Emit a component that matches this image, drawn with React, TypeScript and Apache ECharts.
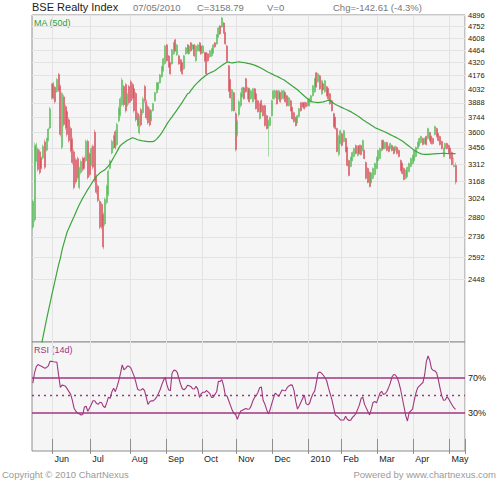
import React, { useEffect, useRef } from 'react';
import * as echarts from 'echarts';

// ---- Data ----
const monthLabels = ['Jun', 'Jul', 'Aug', 'Sep', 'Oct', 'Nov', 'Dec', '2010', 'Feb', 'Mar', 'Apr', 'May'];
const monthStarts = [12, 34, 57, 78, 99, 119, 140, 161, 180, 201, 222, 243];
const SLOT_COUNT = 252;
const priceTicks = [4896, 4752, 4608, 4464, 4320, 4176, 4032, 3888, 3744, 3600, 3456, 3312, 3168, 3024, 2880, 2736, 2592, 2448];
const rsiTicks = [30, 70];
const headerDate = '07/05/2010';
const headerVolume = 0;

const opens = [
  2807, 2860, 3340, 3440, 3420, 3365, 3365, 3510, 3435, 3525, 3640, 3935,
  4090, 4050, 4005, 4190, 4060, 3460, 3950, 3850, 3800, 3720, 3635, 3530, 3420, 3350, 3360, 3115, 3240, 3360, 3365, 3340, 3515, 3400,
  3305, 3470, 3600, 3205, 3125, 3003, 2980, 2900, 2830, 2995, 3060, 3275, 3410, 3455, 3605, 3485, 3710, 3770, 3870, 4060, 4080, 3865, 4060,
  4110, 4080, 4035, 3985, 3780, 3595, 3820, 3790, 4060, 3900, 3850, 3820, 3715, 3810, 3910, 3993, 4035, 4098, 4164, 4230, 4310,
  4527, 4398, 4318, 4307, 4422, 4587, 4410, 4399, 4353, 4318, 4251, 4422, 4527, 4422, 4551, 4480, 4527, 4342, 4457, 4551, 4515,
  4434, 4434, 4434, 4422, 4387, 4399, 4434, 4551, 4539, 4623, 4758, 4745, 4795, 4672, 4515, 4285, 4131, 3810, 3993, 3780,
  3578, 3770, 3860, 3952, 4045, 4142, 3931, 4035, 3931, 3900, 4035, 3982, 3910, 3731, 3910, 3860, 3860, 3760, 3640, 3665, 3760,
  3931, 3941, 4013, 3931, 3993, 3931, 3941, 3993, 3962, 3860, 3910, 3840, 3790, 3741, 3692, 3751, 3890, 3890, 3890, 3890, 3860,
  3860, 3900, 3962, 4003, 4207, 4109, 4174, 3982, 4088, 4003, 4056, 4035, 3982, 3910, 3780, 3741, 3635, 3396, 3495,
  3587, 3513, 3541, 3459, 3343, 3291, 3343, 3378, 3477, 3387, 3477, 3477, 3432, 3432, 3325, 3274, 3240, 3156, 3190, 3223, 3274,
  3343, 3361, 3432, 3523, 3450, 3504, 3468, 3450, 3477, 3459, 3432, 3459, 3432, 3343, 3317, 3274, 3190, 3206, 3249, 3291, 3317,
  3343, 3378, 3450, 3477, 3504, 3541, 3495, 3560, 3541, 3597, 3560, 3541, 3578, 3635, 3587, 3560, 3513, 3378, 3450, 3495, 3477,
  3450, 3414, 3291, 3300,
];
const closes = [
  3003, 3470, 3485, 3265, 3240, 3275, 3470, 3285, 3540, 3630, 3830, 4080,
  3940, 3900, 4135, 4020, 3580, 3985, 3675, 3645, 3580, 3520, 3432, 3325, 3115, 3160, 3197, 3275, 3335, 3265, 3280, 3515, 3197, 3223,
  3450, 3285, 3175, 3075, 3010, 2807, 2810, 2665, 3020, 3125, 3250, 3340, 3515, 3565, 3460, 3675, 3830, 3930, 4130, 3870, 3810, 3975, 3890,
  3910, 3940, 3810, 3720, 3670, 3750, 3670, 3930, 3910, 3740, 3690, 3670, 3805, 3880, 3993, 4098, 4098, 4185, 4274, 4364, 4515,
  4342, 4274, 4196, 4469, 4551, 4457, 4527, 4307, 4230, 4196, 4399, 4492, 4434, 4515, 4457, 4527, 4399, 4515, 4527, 4457, 4422,
  4515, 4342, 4196, 4342, 4457, 4480, 4527, 4504, 4647, 4733, 4659, 4858, 4672, 4539, 4342, 4013, 3942, 4024, 3810, 3441,
  3702, 3900, 3982, 4045, 3931, 4003, 4045, 3900, 4013, 4035, 3931, 3830, 3800, 3880, 3800, 3760, 3665, 3635, 3711, 3741, 3910,
  4013, 4013, 3880, 4013, 3900, 4013, 4013, 3900, 3860, 3941, 3810, 3731, 3702, 3663, 3760, 3830, 3810, 3850, 3830, 3850, 3910,
  3931, 3962, 4066, 4142, 4056, 4196, 4035, 4120, 4024, 4120, 3962, 3931, 3880, 3810, 3654, 3635, 3423, 3560, 3615,
  3477, 3615, 3423, 3300, 3215, 3370, 3414, 3450, 3405, 3468, 3405, 3396, 3523, 3361, 3190, 3156, 3123, 3232, 3274, 3317, 3370,
  3432, 3450, 3523, 3450, 3504, 3432, 3423, 3495, 3432, 3405, 3468, 3405, 3378, 3257, 3232, 3181, 3257, 3283, 3317, 3361, 3387,
  3432, 3459, 3504, 3541, 3560, 3486, 3541, 3486, 3635, 3523, 3495, 3495, 3654, 3560, 3523, 3486, 3450, 3450, 3495, 3450, 3414,
  3361, 3308, 3301.4, 3158.79,
];
const lows = [
  2792, 2843, 3325, 3249, 3223, 3266, 3352, 3266, 3423, 3513, 3625, 3921,
  3921, 3880, 3993, 4003, 3560, 3441, 3654, 3625, 3560, 3504, 3414, 3308, 3099, 3140, 3181, 3099, 3223, 3249, 3266, 3325, 3181, 3206,
  3291, 3266, 3156, 3059, 2996, 2792, 2792, 2649, 2814, 2980, 3043, 3266, 3396, 3441, 3441, 3468, 3692, 3751, 3850, 3850, 3790, 3850, 3870,
  3890, 3921, 3790, 3702, 3654, 3578, 3654, 3770, 3890, 3721, 3673, 3654, 3702, 3800, 3900, 3982, 4024, 4088, 4153, 4218, 4296,
  4330, 4262, 4185, 4296, 4410, 4445, 4399, 4296, 4218, 4185, 4240, 4410, 4422, 4410, 4445, 4469, 4387, 4330, 4445, 4445, 4410,
  4422, 4330, 4185, 4330, 4375, 4387, 4422, 4492, 4527, 4611, 4647, 4733, 4659, 4527, 4330, 4003, 3931, 3800, 3800, 3423,
  3560, 3751, 3840, 3941, 3921, 3993, 3921, 3890, 3921, 3890, 3921, 3820, 3790, 3721, 3790, 3751, 3654, 3625, 3378, 3654, 3751,
  3921, 3921, 3870, 3921, 3890, 3921, 3921, 3890, 3850, 3850, 3800, 3721, 3692, 3654, 3683, 3741, 3800, 3840, 3820, 3840, 3850,
  3850, 3890, 3952, 3993, 4045, 4098, 4024, 3972, 4013, 3993, 3952, 3921, 3870, 3800, 3644, 3625, 3414, 3378, 3486,
  3468, 3504, 3414, 3291, 3206, 3283, 3335, 3370, 3396, 3378, 3396, 3387, 3423, 3352, 3181, 3148, 3115, 3148, 3181, 3215, 3266,
  3335, 3352, 3423, 3441, 3441, 3423, 3414, 3441, 3423, 3396, 3423, 3396, 3370, 3249, 3223, 3173, 3181, 3198, 3240, 3283, 3308,
  3335, 3370, 3441, 3468, 3495, 3477, 3486, 3477, 3532, 3513, 3486, 3486, 3569, 3550, 3513, 3477, 3441, 3370, 3441, 3441, 3405,
  3352, 3300, 3283, 3140,
];
const highs = [
  3019, 3504, 3504, 3459, 3441, 3378, 3486, 3532, 3550, 3644, 3850, 4098,
  4109, 4066, 4153, 4207, 4077, 4003, 3972, 3870, 3820, 3741, 3654, 3550, 3441, 3370, 3378, 3291, 3352, 3378, 3378, 3532, 3532, 3414,
  3468, 3486, 3625, 3223, 3140, 3019, 2996, 2918, 3035, 3140, 3266, 3352, 3532, 3578, 3625, 3692, 3850, 3952, 4153, 4077, 4098, 3993, 4077,
  4131, 4098, 4056, 4003, 3800, 3770, 3840, 3952, 4077, 3921, 3870, 3840, 3820, 3890, 4003, 4109, 4109, 4196, 4285, 4375, 4527,
  4539, 4410, 4330, 4480, 4563, 4599, 4539, 4410, 4364, 4330, 4410, 4504, 4539, 4527, 4563, 4539, 4539, 4527, 4539, 4563, 4527,
  4527, 4445, 4445, 4433, 4469, 4492, 4539, 4563, 4659, 4745, 4770, 4870, 4808, 4684, 4527, 4296, 4142, 4035, 4003, 3800,
  3721, 3921, 4003, 4056, 4056, 4153, 4056, 4045, 4024, 4045, 4045, 3993, 3921, 3890, 3921, 3870, 3870, 3770, 3721, 3751, 3921,
  4024, 4024, 4024, 4024, 4003, 4024, 4024, 4003, 3972, 3952, 3921, 3850, 3800, 3751, 3770, 3840, 3900, 3900, 3900, 3900, 3921,
  3941, 3972, 4077, 4153, 4218, 4207, 4185, 4131, 4098, 4131, 4066, 4045, 3993, 3921, 3790, 3751, 3644, 3578, 3625,
  3597, 3625, 3550, 3468, 3352, 3378, 3423, 3459, 3486, 3477, 3486, 3486, 3532, 3441, 3335, 3283, 3249, 3240, 3283, 3325, 3378,
  3441, 3459, 3532, 3532, 3513, 3513, 3477, 3504, 3486, 3468, 3477, 3468, 3441, 3352, 3325, 3283, 3266, 3291, 3325, 3370, 3396,
  3441, 3468, 3513, 3550, 3569, 3550, 3550, 3569, 3644, 3606, 3569, 3550, 3663, 3644, 3597, 3569, 3523, 3459, 3504, 3504, 3486,
  3459, 3423, 3370, 3325,
];
const ma50 = [
  1846, 1887, 1929, 1972, 2015, 2060, 2109, 2157, 2206, 2252, 2298, 2348,
  2396, 2445, 2494, 2545, 2586, 2645, 2688, 2731, 2773, 2801, 2830, 2859, 2887, 2917, 2947, 2976, 3003, 3029, 3052, 3076, 3099, 3121,
  3143, 3167, 3189, 3207, 3221, 3236, 3247, 3255, 3264, 3280, 3297, 3316, 3342, 3369, 3396, 3424, 3453, 3478, 3490, 3502, 3514, 3525, 3533,
  3541, 3549, 3544, 3537, 3530, 3526, 3522, 3519, 3517, 3515, 3513, 3513, 3513, 3513, 3522, 3536, 3553, 3573, 3594, 3621, 3649,
  3678, 3703, 3726, 3748, 3772, 3796, 3820, 3846, 3870, 3896, 3925, 3953, 3982, 3991, 4017, 4041, 4066, 4085, 4103, 4121, 4139,
  4154, 4169, 4183, 4197, 4206, 4215, 4222, 4233, 4247, 4262, 4275, 4288, 4302, 4315, 4329, 4327, 4322, 4319, 4322, 4325,
  4328, 4330, 4327, 4325, 4321, 4318, 4313, 4309, 4304, 4299, 4293, 4285, 4276, 4267, 4257, 4246, 4235, 4224, 4214, 4205, 4196,
  4187, 4176, 4169, 4160, 4150, 4140, 4132, 4119, 4105, 4092, 4078, 4064, 4051, 4038, 4024, 4008, 3991, 3975, 3959, 3944, 3928,
  3912, 3900, 3898, 3895, 3893, 3890, 3893, 3896, 3898, 3903, 3910, 3916, 3913, 3899, 3885, 3874, 3865, 3857, 3848,
  3840, 3831, 3824, 3816, 3808, 3800, 3790, 3780, 3770, 3758, 3746, 3734, 3721, 3710, 3699, 3689, 3678, 3667, 3656, 3645, 3637,
  3631, 3623, 3617, 3610, 3603, 3594, 3586, 3578, 3570, 3562, 3554, 3546, 3537, 3528, 3518, 3506, 3494, 3482, 3470, 3458, 3446,
  3435, 3425, 3416, 3408, 3402, 3399, 3398, 3398, 3398, 3399, 3400, 3401, 3402, 3403, 3404, 3405, 3406, 3406, 3406, 3405, 3404,
  3403, 3403, 3403, 3403,
];
const rsi14 = [
  63.8, 75.9, 82.7, 85.1, 84.0, 83.0, 81.9, 80.9, 81.7, 83.6, 88.6, 88.7,
  88.3, 88.0, 87.6, 72.7, 59.0, 61.5, 61.0, 60.2, 57.2, 54.1, 50.9, 44.1, 35.0, 31.7, 29.4, 28.7, 27.3, 27.9, 36.4, 37.3, 31.6, 35.4,
  39.4, 43.6, 43.6, 40.7, 39.5, 41.9, 41.4, 37.4, 36.0, 41.2, 47.7, 46.5, 54.0, 57.8, 54.0, 59.8, 66.7, 74.9, 84.7, 79.1, 80.7, 83.3, 82.9,
  81.2, 76.4, 71.5, 64.3, 56.7, 55.7, 56.0, 57.6, 55.2, 47.5, 39.4, 42.5, 43.6, 43.5, 45.2, 47.8, 51.7, 55.9, 61.8, 66.8, 70.6,
  62.0, 56.1, 55.2, 75.0, 78.5, 78.4, 76.2, 69.1, 62.5, 57.3, 56.2, 58.1, 61.3, 60.7, 59.7, 57.3, 57.1, 60.1, 56.9, 47.4, 51.8,
  53.3, 53.3, 55.3, 53.8, 51.7, 47.3, 47.8, 50.9, 54.3, 66.0, 65.7, 67.9, 60.7, 50.0, 49.1, 43.7, 38.3, 33.1, 29.1, 27.9,
  22.5, 27.8, 31.8, 32.8, 33.8, 34.8, 33.9, 34.2, 37.5, 43.4, 47.4, 49.4, 53.4, 58.6, 59.5, 44.1, 40.0, 33.8, 28.6, 33.0, 40.1,
  46.3, 52.3, 50.8, 48.5, 51.9, 55.9, 55.3, 55.1, 58.6, 60.6, 61.8, 61.5, 55.3, 42.9, 34.2, 37.7, 41.9, 46.1, 50.2, 40.3, 38.9,
  40.5, 46.8, 51.7, 54.7, 64.7, 75.4, 76.5, 75.2, 72.8, 70.2, 66.5, 58.6, 51.8, 45.2, 36.4, 27.4, 26.0, 24.0, 21.6,
  21.6, 21.6, 25.9, 22.5, 21.1, 21.5, 24.6, 26.5, 28.9, 33.8, 38.6, 46.1, 47.9, 39.8, 35.5, 31.4, 27.4, 34.3, 41.7, 42.8, 41.2,
  46.7, 52.4, 54.5, 50.9, 51.6, 54.2, 58.6, 63.7, 70.8, 73.6, 73.1, 70.2, 64.3, 56.8, 46.8, 36.8, 26.7, 20.5, 30.2, 32.0, 34.3,
  44.5, 52.8, 58.6, 60.6, 62.6, 64.5, 73.1, 88.3, 94.8, 89.8, 80.3, 78.3, 77.8, 75.6, 67.4, 57.9, 49.2, 44.3, 44.5, 48.3, 45.7,
  42.2, 38.7, 35.7, 33.8,
];

// ---- Styling ----
const FONT = '"Liberation Sans", Arial, sans-serif';
const UP = '#52bb52';
const DOWN = '#d84c58';
const MA_COLOR = '#3ca53c';
const RSI_COLOR = '#a1367f';
const GRID_LINE = '#e3e3e3';
const BORDER = '#8e8e8e';
const PLOT_BG = '#f5f5f5';

export default function App() {
  const ref = useRef<HTMLDivElement>(null);

  useEffect(() => {
    if (!ref.current) return;
    const chart = echarts.init(ref.current, null, { renderer: 'svg' });
    const ln = Math.log;
    const slots = Array.from({ length: SLOT_COUNT }, (_, i) => String(i));
    const monthSet = new Set(monthStarts);
    const isMonthStart = (idx: number) => monthSet.has(idx);
    const candleData = opens.map((o, i) => [ln(o), ln(closes[i]), ln(lows[i]), ln(highs[i])]);
    const maData = ma50.map((v) => ln(v));
    const priceTickLn = priceTicks.map((v) => ln(v));

    const last = closes.length - 1;
    const lastClose = closes[last];
    const chg = lastClose - closes[last - 1];
    const chgPct = (chg / closes[last - 1]) * 100;

    const txt = (text: string, x: number, y: number, size: number, fill: string, align = 'left', weight = 'normal') => ({
      type: 'text',
      x,
      y,
      silent: true,
      style: {
        text,
        fill,
        font: `${weight} ${size}px ${FONT}`,
        textAlign: align,
        textVerticalAlign: 'middle',
      },
    });

    const option: any = {
      animation: false,
      backgroundColor: '#ffffff',
      textStyle: { fontFamily: FONT },
      grid: [
        { left: 32, top: 15, width: 433, height: 327, show: true, backgroundColor: PLOT_BG, borderColor: BORDER, borderWidth: 1 },
        { left: 32, top: 342, width: 433, height: 109, show: true, backgroundColor: PLOT_BG, borderColor: BORDER, borderWidth: 1 },
      ],
      xAxis: [
        {
          type: 'category',
          gridIndex: 0,
          data: slots,
          boundaryGap: true,
          axisLine: { show: false },
          axisTick: { show: false, interval: isMonthStart },
          axisLabel: { show: false },
          splitLine: { show: true, interval: isMonthStart, lineStyle: { color: GRID_LINE, width: 1 } },
        },
        {
          type: 'category',
          gridIndex: 1,
          data: slots,
          boundaryGap: true,
          axisLine: { show: false },
          axisTick: { show: true, interval: isMonthStart, length: 15, lineStyle: { color: BORDER, width: 1 } },
          axisLabel: {
            show: true,
            interval: isMonthStart,
            formatter: (v: string) => {
              const k = monthStarts.indexOf(Number(v));
              return k >= 0 ? monthLabels[k] : '';
            },
            align: 'left',
            margin: 3,
            padding: [0, 0, 0, 1],
            fontSize: 9,
            color: '#222',
            fontFamily: FONT,
          },
          splitLine: { show: true, interval: isMonthStart, lineStyle: { color: GRID_LINE, width: 1 } },
        },
      ],
      yAxis: [
        {
          type: 'value',
          gridIndex: 0,
          position: 'right',
          min: ln(2077),
          max: ln(4896),
          axisLine: { show: false },
          axisTick: { show: false, customValues: priceTickLn },
          axisLabel: {
            customValues: priceTickLn,
            formatter: (v: number) => String(Math.round(Math.exp(v))),
            fontSize: 7.5,
            color: '#222',
            margin: 3,
            fontFamily: FONT,
          },
          splitLine: { show: true, lineStyle: { color: GRID_LINE, width: 1 } },
        },
        {
          type: 'value',
          gridIndex: 1,
          position: 'right',
          min: -13.8,
          max: 110.8,
          axisLine: { show: false },
          axisTick: { show: false, customValues: rsiTicks },
          axisLabel: {
            customValues: rsiTicks,
            formatter: '{value}%',
            fontSize: 9,
            color: '#222',
            margin: 3,
            fontFamily: FONT,
          },
          splitLine: { show: false },
        },
      ],
      series: [
        {
          type: 'candlestick',
          xAxisIndex: 0,
          yAxisIndex: 0,
          data: candleData,
          barWidth: 1.5,
          itemStyle: { color: UP, color0: DOWN, borderColor: UP, borderColor0: DOWN, borderWidth: 0.5 },
          z: 2,
        },
        {
          type: 'line',
          xAxisIndex: 0,
          yAxisIndex: 0,
          data: maData,
          symbol: 'none',
          showSymbol: false,
          lineStyle: { color: MA_COLOR, width: 1.2 },
          z: 3,
          silent: true,
        },
        {
          type: 'line',
          xAxisIndex: 1,
          yAxisIndex: 1,
          data: rsi14,
          symbol: 'none',
          showSymbol: false,
          lineStyle: { color: RSI_COLOR, width: 1.1 },
          silent: true,
          markLine: {
            silent: true,
            symbol: ['none', 'none'],
            label: { show: false },
            lineStyle: { color: RSI_COLOR, width: 1.6, type: 'solid' },
            data: [
              { yAxis: 70 },
              { yAxis: 30 },
              { yAxis: 50, lineStyle: { type: [2, 4], width: 1.3, color: RSI_COLOR, opacity: 1 } },
            ],
          },
        },
      ],
      graphic: {
        elements: [
          txt('BSE Realty Index', 32, 7, 11, '#222'),
          txt(headerDate, 133, 7.5, 9.5, '#777'),
          txt(`C=${lastClose.toFixed(2)}`, 197, 7.5, 9.5, '#777'),
          txt(`V=${headerVolume}`, 267, 7.5, 9.5, '#777'),
          txt(`Chg=${chg.toFixed(2)} (${chgPct.toFixed(1)}%)`, 333, 7.5, 9.5, '#777'),
          txt('MA (50d)', 34, 23, 9, '#33a033'),
          txt('RSI (14d)', 34, 350, 9, RSI_COLOR),
          txt('Copyright \u00a9 2010 ChartNexus', 2, 474, 9.5, '#9a9a9a'),
          txt('Powered by www.chartnexus.com', 496, 474, 9.5, '#9a9a9a', 'right'),
        ],
      },
    };

    chart.setOption(option);
    return () => chart.dispose();
  }, []);

  return (
    <div
      ref={ref}
      style={{ position: 'fixed', left: 0, top: 0, width: 498, height: 480, background: '#ffffff' }}
    />
  );
}
